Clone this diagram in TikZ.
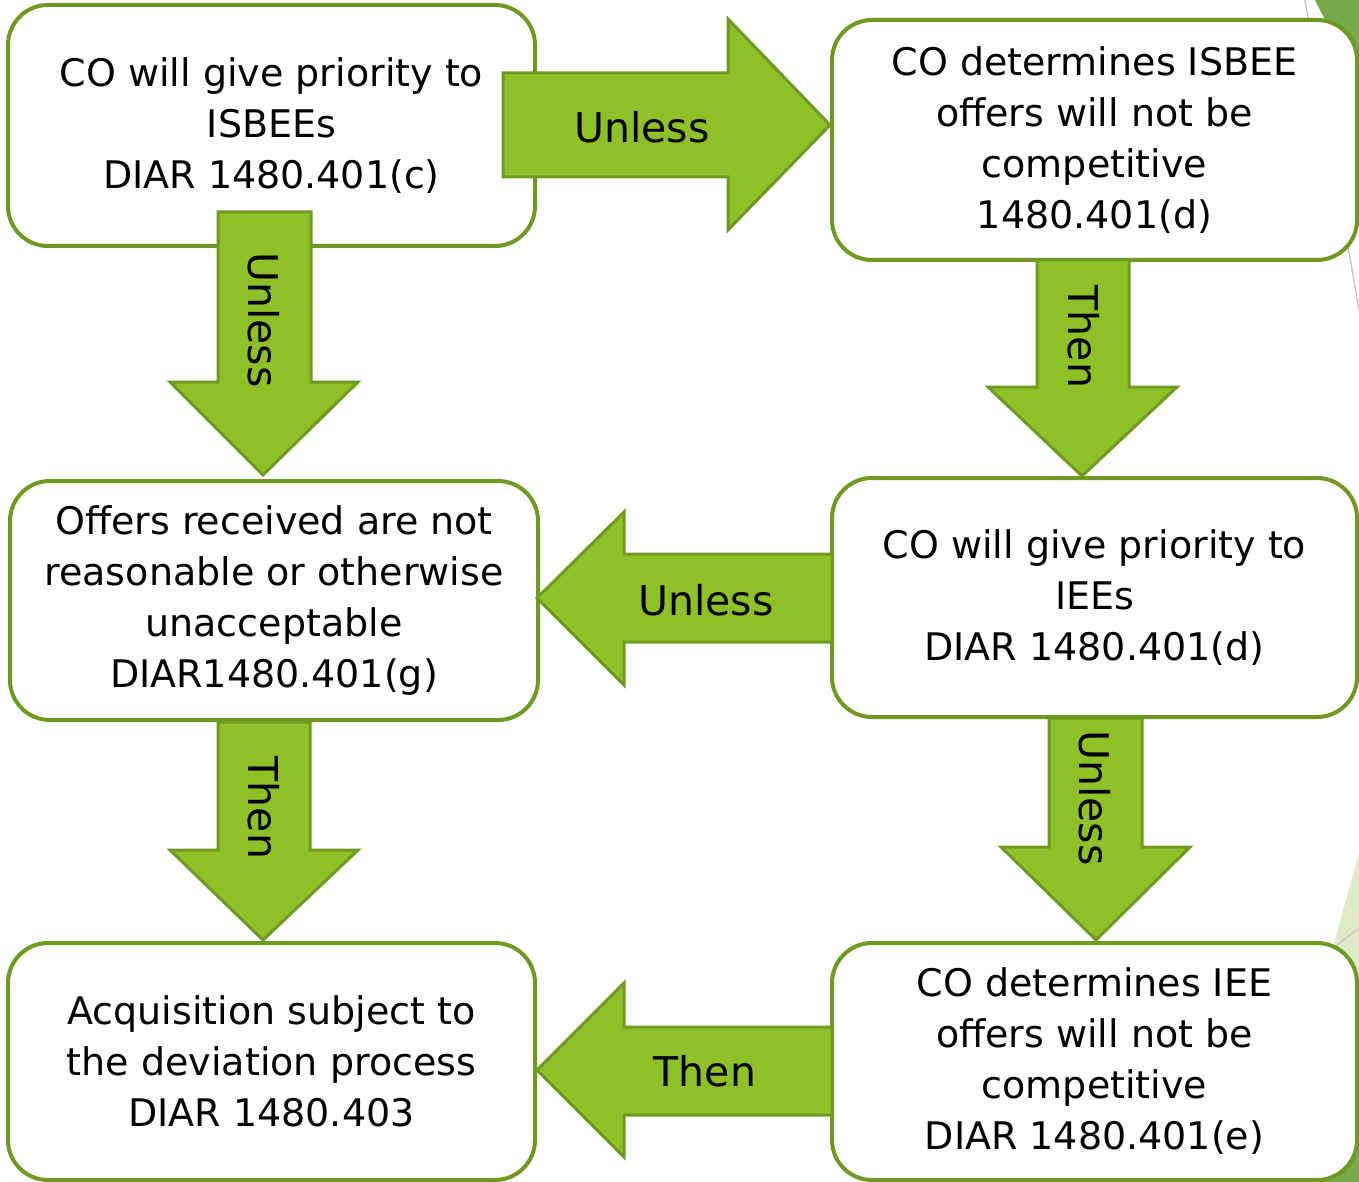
\documentclass[tikz,border=0pt]{standalone}
\usepackage{fontspec}
\setmainfont{DejaVu Sans}
\definecolor{arrowfill}{HTML}{8EC128}
\definecolor{arrowline}{HTML}{6E9A22}
\definecolor{boxline}{HTML}{6E9A22}
\definecolor{decodark}{HTML}{74AA48}
\definecolor{decolight}{HTML}{DDEBC6}
\definecolor{decoline}{HTML}{BFBFBF}
\begin{document}
\begin{tikzpicture}[x=1pt,y=-1pt,
  flowbox/.style={draw=boxline, line width=4pt, fill=white, rounded corners=40pt,
    align=center, inner sep=0pt, font=\fontsize{38}{51}\selectfont,
    execute at begin node={\rule{0pt}{35pt}}},
  blockarrow/.style={draw=arrowline, line width=3pt, fill=arrowfill, line join=miter},
  arrowlabel/.style={inner sep=0pt, font=\fontsize{41}{49}\selectfont}]
\useasboundingbox (0,0) rectangle (1359,1182);
% slide background decorations
\fill[decodark] (1315,0) -- (1359,0) -- (1359,90) -- (1345,60) -- cycle;
\draw[decoline, line width=1.2pt] (1305,0) -- (1359,310);
\fill[decolight] (1333,947) -- (1359,853) -- (1359,1182) -- (1320,1182) -- cycle;
\draw[decoline, line width=1.2pt] (1337,945) -- (1359,928);
\fill[decodark] (1300,1182) -- (1359,1182) -- (1359,1120) -- cycle;
% boxes
\node[flowbox, minimum width=527pt, minimum height=241pt] (b1) at (271.5,125.5)
  {CO will give priority to\\ ISBEEs\\ DIAR 1480.401(c)};
\node[flowbox, minimum width=525pt, minimum height=240pt] (b2) at (1094.5,140)
  {CO determines ISBEE\\ offers will not be\\ competitive\\ 1480.401(d)};
\node[flowbox, minimum width=528pt, minimum height=239pt] (b3) at (274,600.5)
  {Offers received are not\\ reasonable or otherwise\\ unacceptable\\ DIAR1480.401(g)};
\node[flowbox, minimum width=525pt, minimum height=239pt] (b4) at (1094.5,597.5)
  {CO will give priority to\\ IEEs\\ DIAR 1480.401(d)};
\node[flowbox, minimum width=527pt, minimum height=237pt] (b5) at (271.5,1061.5)
  {Acquisition subject to\\ the deviation process\\ DIAR 1480.403};
\node[flowbox, minimum width=525pt, minimum height=237pt] (b6) at (1094.5,1061.5)
  {CO determines IEE\\ offers will not be\\ competitive\\ DIAR 1480.401(e)};
% block arrows
\draw[blockarrow] (503,73) -- (728,73) -- (728,19) -- (830,125) -- (728,230) -- (728,177) -- (503,177) -- cycle;
\node[arrowlabel] (l1) at (642,127) {Unless};
\draw[blockarrow] (218,212) -- (311,212) -- (311,382) -- (358,382) -- (263,475) -- (170,382) -- (218,382) -- cycle;
\node[arrowlabel, rotate=-90] (l2) at (264,320) {Unless};
\draw[blockarrow] (1037,260) -- (1129,260) -- (1129,387) -- (1177,387) -- (1082,476) -- (988,387) -- (1037,387) -- cycle;
\node[arrowlabel, rotate=-90] (l3) at (1084,337) {Then};
\draw[blockarrow] (832,554) -- (624,554) -- (624,512) -- (537,598) -- (624,685) -- (624,642) -- (832,642) -- cycle;
\node[arrowlabel] (l4) at (706,600) {Unless};
\draw[blockarrow] (218,722) -- (310,722) -- (310,850) -- (358,850) -- (263,940) -- (170,850) -- (218,850) -- cycle;
\node[arrowlabel, rotate=-90] (l5) at (264,808) {Then};
\draw[blockarrow] (1049,718) -- (1142,718) -- (1142,847) -- (1190,847) -- (1096,940) -- (1001,847) -- (1049,847) -- cycle;
\node[arrowlabel, rotate=-90] (l6) at (1095,798) {Unless};
\draw[blockarrow] (832,1027) -- (624,1027) -- (624,983) -- (537,1070) -- (624,1157) -- (624,1115) -- (832,1115) -- cycle;
\node[arrowlabel] (l7) at (705,1071) {Then};
\end{tikzpicture}
\end{document}
